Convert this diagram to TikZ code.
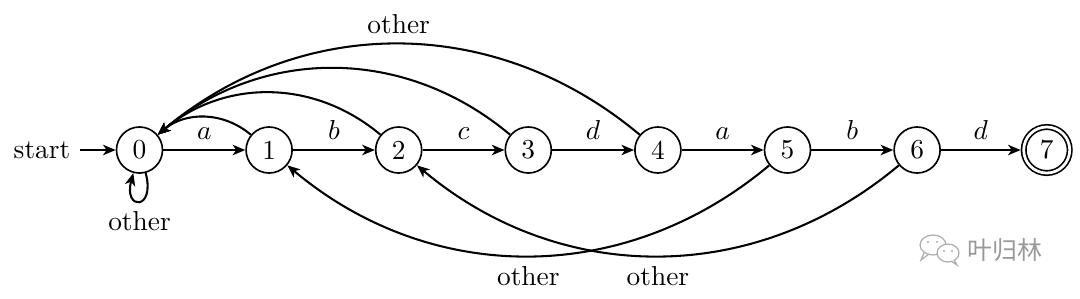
\documentclass[tikz,border=0pt]{standalone}
\usepackage{fontspec}
\newfontfamily\cjk{Noto Sans CJK SC}
\usetikzlibrary{arrows.meta}
\begin{document}
\begin{tikzpicture}[x=0.365pt,y=0.365pt,
  state/.style={circle,draw,line width=0.6pt,minimum size=16.8pt,inner sep=0pt},
  accept/.style={state,double,double distance=1pt,outer sep=1.1pt},
  edge/.style={line width=0.75pt,-{Stealth[length=4.6pt,width=3.8pt,inset=1.3pt]}},
  lbl/.style={inner sep=3.3pt},
  wm/.style={draw=black!32,line width=0.45pt}]
\useasboundingbox (0,0) rectangle (1080,298);

\node[state] (n0) at (139.5,148) {0};
\node[state] (n1) at (269.1,148) {1};
\node[state] (n2) at (398.7,148) {2};
\node[state] (n3) at (528.3,148) {3};
\node[state] (n4) at (657.9,148) {4};
\node[state] (n5) at (787.5,148) {5};
\node[state] (n6) at (917.1,148) {6};
\node[accept] (n7) at (1046.7,148) {7};
\node (start) at (42,148) {start};

\draw[edge] (start) -- (n0);
\draw[edge] (n0) -- node[lbl,above] {$a$} (n1);
\draw[edge] (n1) -- node[lbl,above] {$b$} (n2);
\draw[edge] (n2) -- node[lbl,above] {$c$} (n3);
\draw[edge] (n3) -- node[lbl,above] {$d$} (n4);
\draw[edge] (n4) -- node[lbl,above] {$a$} (n5);
\draw[edge] (n5) -- node[lbl,above] {$b$} (n6);
\draw[edge] (n6) -- node[lbl,above] {$d$} (n7);

\draw[edge] (n0) to[out=-75,in=-105,looseness=8,min distance=5mm] node[lbl,below] {other} (n0);

\draw[edge] (n1) to[bend right=40] (n0);
\draw[edge] (n2) to[bend right=40] (n0);
\draw[edge] (n3) to[bend right=40] (n0);
\draw[edge] (n4) to[bend right=40] node[lbl,above] {other} (n0);

\draw[edge] (n5) to[bend left=40] node[lbl,below] {other} (n1);
\draw[edge] (n6) to[bend left=40] node[lbl,below] {other} (n2);

% watermark
\draw[wm] (933,53) ellipse [x radius=13, y radius=10];
\draw[wm] (924,45) -- (921,38) -- (929,44);
\filldraw[wm,fill=white] (948,45) ellipse [x radius=11, y radius=9];
\draw[wm,fill=white] (954,38) -- (957,33) -- (951,37);
\fill[black!32] (928,56) circle (1.2) (937,56) circle (1.2) (944,47) circle (1.1) (952,47) circle (1.1);
\node[text=black!40,inner sep=0pt] (wmtext) at (1005,48) {\cjk\fontsize{9.1}{10}\selectfont 叶归林};
\end{tikzpicture}
\end{document}
